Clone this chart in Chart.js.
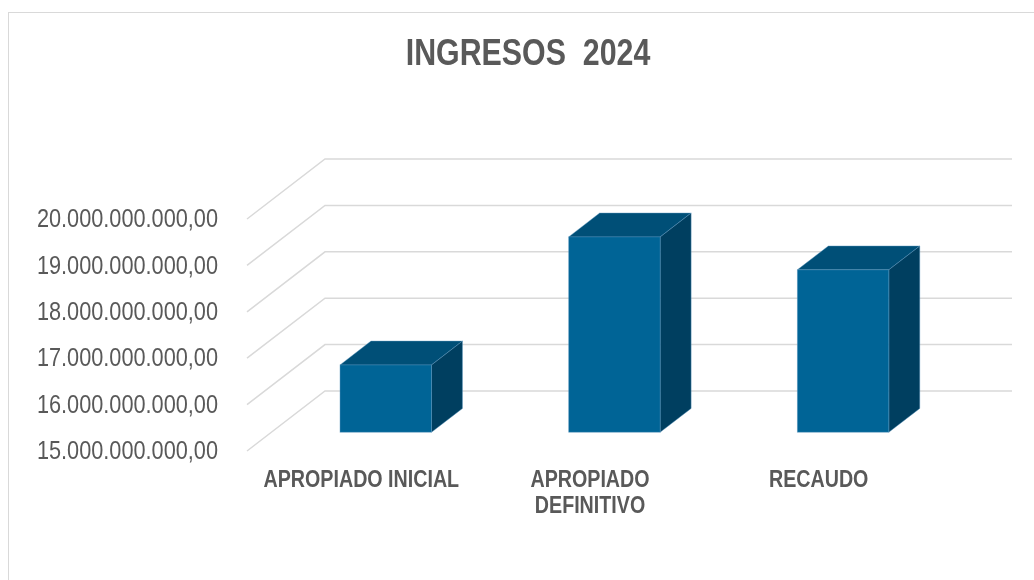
<!DOCTYPE html>
<html lang="es">
<head>
  <meta charset="UTF-8" />
  <title>Ingresos 2024</title>
  <style>
    body {
      margin: 0;
      padding: 0;
      background: #ffffff;
      overflow: hidden;
      width: 1034px;
      height: 580px;
      position: relative;
    }
    .frame {
      position: absolute;
      left: 8px;
      top: 12px;
      width: 1100px;
      height: 700px;
      border: 1.5px solid #d9d9d9;
    }
    #chart {
      position: absolute;
      left: 0;
      top: 0;
    }
  </style>
  <script src="https://cdn.jsdelivr.net/npm/chart.js"></script>
</head>
<body>
  <div class="frame"></div>
  <canvas id="chart" width="1034" height="580"></canvas>

  <script>
    // datos
    const titulo = 'INGRESOS  2024';
    const categorias = [["APROPIADO INICIAL"], ["APROPIADO", "DEFINITIVO"], ["RECAUDO"]];
    const valores = [16450000000, 19210000000, 18500000000];
    const ticksY = [15000000000, 16000000000, 17000000000, 18000000000, 19000000000, 20000000000];

    const fuente = "'Liberation Sans', Arial, sans-serif";
    const gris = '#595959';

    // profundidad del efecto 3D
    const PROF_X = 78, PROF_Y = 60;
    const BARRA_FRENTE = 0.313, BARRA_FONDO = 0.71;

    function formato(v) {
      const ent = Math.round(v).toString().replace(/\B(?=(\d{3})+(?!\d))/g, '.');
      return ent + ',00';
    }

    // texto estrechado (simula Arial Narrow)
    function texto(ctx, t, x, y, size, bold, align, estrecho) {
      ctx.save();
      ctx.translate(x, y);
      ctx.scale(estrecho, 1);
      ctx.font = (bold ? 'bold ' : '') + size + 'px ' + fuente;
      ctx.fillStyle = gris;
      ctx.textAlign = align;
      ctx.textBaseline = 'middle';
      ctx.fillText(t, 0, 0);
      ctx.restore();
    }

    const plugin3d = {
      id: 'plugin3d',
      beforeDatasetsDraw(chart) {
        const { ctx, chartArea, scales } = chart;
        ctx.save();
        ctx.strokeStyle = '#d9d9d9';
        ctx.lineWidth = 1.5;
        scales.y.ticks.forEach(t => {
          const y = scales.y.getPixelForValue(t.value);
          ctx.beginPath();
          ctx.moveTo(chartArea.left, y);
          ctx.lineTo(chartArea.left + PROF_X, y - PROF_Y);
          ctx.lineTo(chartArea.right + PROF_X + 1, y - PROF_Y);
          ctx.stroke();
        });
        ctx.restore();
      },
      afterDatasetsDraw(chart) {
        const { ctx, chartArea, scales } = chart;
        const meta = chart.getDatasetMeta(0);
        const fx = BARRA_FRENTE * PROF_X, fy = BARRA_FRENTE * PROF_Y;
        const dx = (BARRA_FONDO - BARRA_FRENTE) * PROF_X, dy = (BARRA_FONDO - BARRA_FRENTE) * PROF_Y;
        const suelo = scales.y.getPixelForValue(scales.y.min);
        ctx.save();
        ctx.lineWidth = 0.8;
        ctx.strokeStyle = 'rgba(90,150,190,0.55)';
        meta.data.forEach(bar => {
          const L = bar.x - bar.width / 2 + fx;
          const R = bar.x + bar.width / 2 + fx;
          const T = bar.y - fy;
          const B = Math.min(bar.base, suelo) - fy;

          // cara superior
          ctx.fillStyle = '#004f77';
          ctx.beginPath();
          ctx.moveTo(L, T);
          ctx.lineTo(L + dx, T - dy);
          ctx.lineTo(R + dx, T - dy);
          ctx.lineTo(R, T);
          ctx.closePath();
          ctx.fill();
          ctx.stroke();

          // cara lateral
          ctx.fillStyle = '#003f60';
          ctx.beginPath();
          ctx.moveTo(R, T);
          ctx.lineTo(R + dx, T - dy);
          ctx.lineTo(R + dx, B - dy);
          ctx.lineTo(R, B);
          ctx.closePath();
          ctx.fill();
          ctx.stroke();

          // cara frontal
          ctx.fillStyle = '#006496';
          ctx.fillRect(L, T, R - L, B - T);
          ctx.strokeRect(L, T, R - L, B - T);
        });

        // etiquetas del eje Y
        scales.y.ticks.forEach(t => {
          texto(ctx, formato(t.value), chartArea.left - 29, scales.y.getPixelForValue(t.value) + 1, 26, false, 'right', 0.835);
        });

        // etiquetas del eje X
        categorias.forEach((lineas, i) => {
          const x = scales.x.getPixelForTick(i);
          lineas.forEach((l, j) => {
            texto(ctx, l, x, chartArea.bottom + 30 + j * 26, 23, true, 'center', 0.855);
          });
        });

        // titulo
        texto(ctx, titulo, chart.width / 2 + 11, 55, 37, true, 'center', 0.82);
        ctx.restore();
      }
    };

    new Chart(document.getElementById('chart'), {
      type: 'bar',
      data: {
        labels: categorias,
        datasets: [{
          data: valores,
          backgroundColor: 'rgba(0,0,0,0)',
          borderWidth: 0,
          categoryPercentage: 1,
          barPercentage: 0.4
        }]
      },
      options: {
        responsive: false,
        animation: false,
        layout: { padding: { left: 0, right: 101, top: 219, bottom: 0 } },
        plugins: {
          legend: { display: false },
          tooltip: { enabled: false },
          title: { display: false }
        },
        scales: {
          x: {
            grid: { display: false, drawTicks: false },
            border: { display: false },
            ticks: { display: false },
            afterFit(s) { s.height = 129; }
          },
          y: {
            min: ticksY[0],
            max: ticksY[ticksY.length - 1],
            grid: { display: false, drawTicks: false },
            border: { display: false },
            afterBuildTicks(s) { s.ticks = ticksY.map(v => ({ value: v })); },
            ticks: { display: false },
            afterFit(s) { s.width = 247; }
          }
        }
      },
      plugins: [plugin3d]
    });
  </script>
</body>
</html>
